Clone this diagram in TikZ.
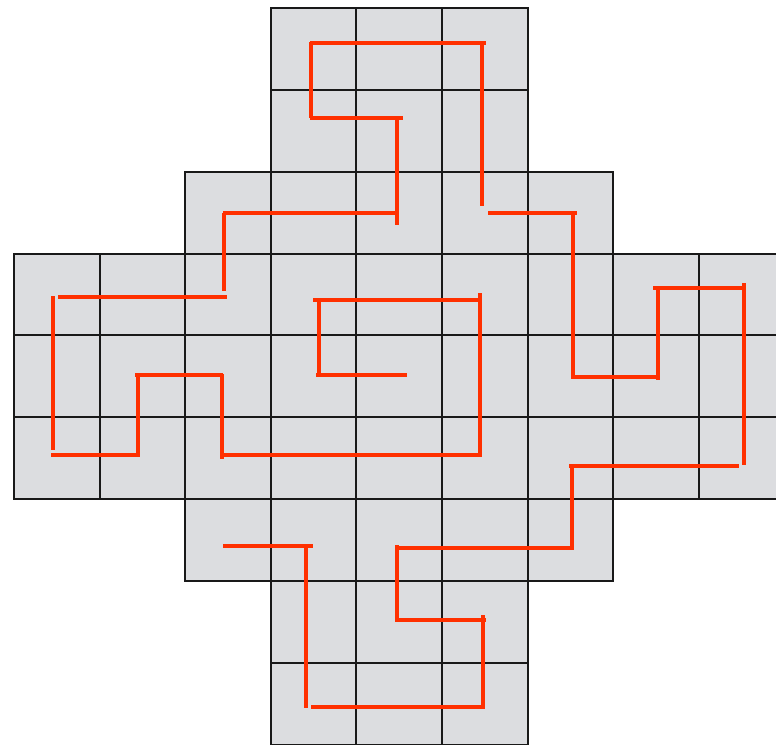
\documentclass[tikz,border=0pt]{standalone}
\usepackage{tikz}
\definecolor{cellgray}{RGB}{220,221,224}
\definecolor{pathred}{RGB}{255,48,0}

\begin{document}
\begin{tikzpicture}[x=1pt, y=-1pt,
    cell/.style={fill=cellgray, draw=black!90, line width=1.9pt},
    walk/.style={draw=pathred, line width=4.4pt}]
\useasboundingbox (0,0) rectangle (776,744);
\clip (0,0) rectangle (776,744);

% Cross-shaped board, row by row
\begin{scope}[shift={(14,8)}, xscale=85.6, yscale=81.85]
\foreach \r/\a/\b in {0/3/5, 1/3/5, 2/2/6, 3/0/8, 4/0/8, 5/0/8, 6/2/6, 7/3/5, 8/3/5}
  \foreach \c in {\a,...,\b}
    \draw[cell] (\c,\r) rectangle ++(1,1);
\end{scope}

% Red walk, first half (top spiral into the centre)
\foreach \xa/\ya/\xb/\yb in {310/43/486/43, 311/42/311/118, 310/118/403/118,
    397/118/397/225, 223/213/395/213, 224/213/224/291, 58/297/227/297,
    53/296/53/450, 51/455/140/455, 138/456/138/374, 135/375/223/375,
    222/374/222/459, 222/455/481/455, 480/293/480/457, 313/300/481/300,
    319/300/319/377, 316/375/407/375}
  \draw[walk] (\xa,\ya) -- (\xb,\yb);

% Red walk, second half (right side and bottom)
\foreach \xa/\ya/\xb/\yb in {482/42/482/206, 488/213/577/213, 573/213/573/379,
    571/377/659/377, 658/288/658/380, 653/288/745/288, 744/283/744/465,
    569/466/739/466, 572/464/572/550, 396/548/574/548, 397/545/397/622,
    395/620/486/620, 483/615/483/709, 311/707/485/707, 306/546/306/708,
    223/546/313/546}
  \draw[walk] (\xa,\ya) -- (\xb,\yb);
\end{tikzpicture}
\end{document}
